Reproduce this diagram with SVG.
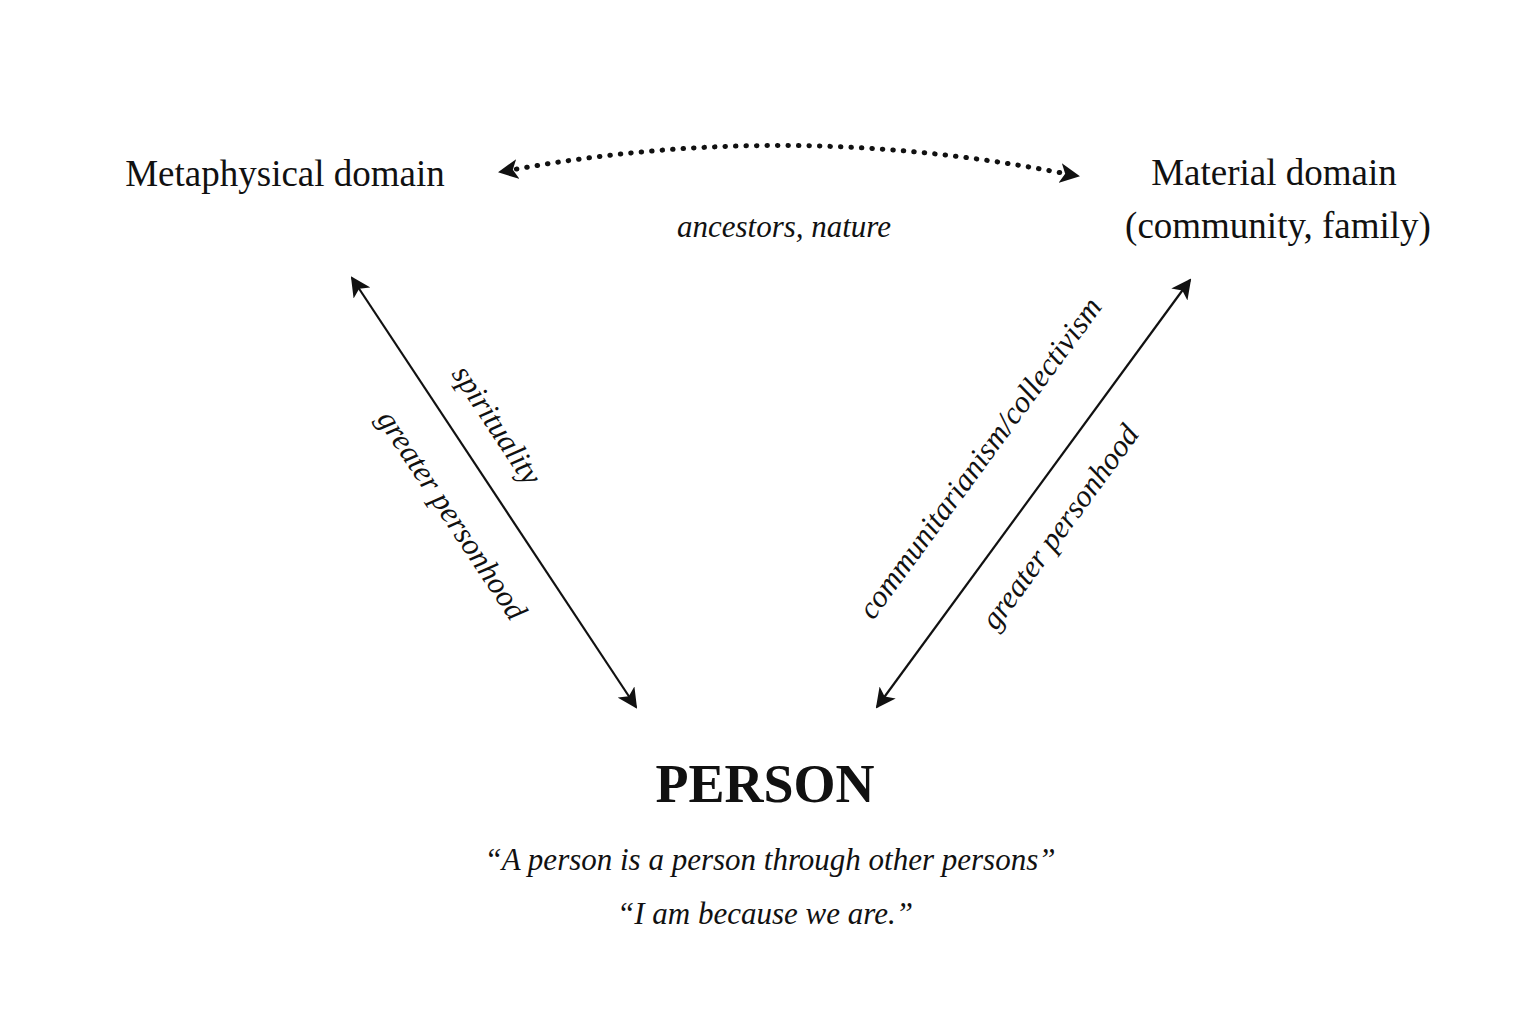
<svg xmlns="http://www.w3.org/2000/svg" width="1536" height="1024" viewBox="0 0 1536 1024">
<style>
text{font-family:"Liberation Serif","Times New Roman",serif;fill:#111}
.h{font-size:37px}
.i{font-size:31px;font-style:italic}
.l{stroke:#111;stroke-width:2.2;fill:none}
</style>
<defs>
<marker id="b" viewBox="0 0 10 10" refX="9" refY="5" markerWidth="20" markerHeight="20" markerUnits="userSpaceOnUse" orient="auto-start-reverse"><path d="M0,0 L10,5 L0,10 L2.5,5 z" fill="#111"/></marker>
</defs>
<rect width="1536" height="1024" fill="#fff"/>
<g id="metaphysical"><text class="h" x="285" y="186" text-anchor="middle">Metaphysical domain</text></g>
<g id="material"><text class="h" x="1274" y="185" text-anchor="middle">Material domain</text><text class="h" x="1278" y="238" text-anchor="middle">(community, family)</text></g>
<g id="person"><text x="765" y="802" text-anchor="middle" font-size="54" font-weight="bold">PERSON</text>
<text class="i" x="770" y="870" text-anchor="middle">“A person is a person through other persons”</text>
<text class="i" x="765" y="924" text-anchor="middle">“I am because we are.”</text></g>
<g id="connectors">
<path d="M506,171 Q789,118 1072,175" fill="none" stroke="#111" stroke-dasharray="0.5 10" stroke-linecap="round" stroke-width="5"/>
<path d="M512,170 L500,172" fill="none" stroke="none" marker-end="url(#b)"/>
<path d="M1066,174 L1078,176" fill="none" stroke="none" marker-end="url(#b)"/>
<line class="l" x1="352" y1="278" x2="636" y2="707" marker-start="url(#b)" marker-end="url(#b)"/>
<line class="l" x1="1190" y1="280" x2="877" y2="707" marker-start="url(#b)" marker-end="url(#b)"/>
<text class="i" x="784" y="237" text-anchor="middle">ancestors, nature</text>
<text class="i" transform="translate(497,425) rotate(56.5)" text-anchor="middle" y="10">spirituality</text>
<text class="i" transform="translate(452,515) rotate(56.5)" text-anchor="middle" y="10">greater personhood</text>
<text class="i" transform="translate(980,458) rotate(-53.8)" text-anchor="middle" y="10">communitarianism/collectivism</text>
<text class="i" transform="translate(1060,527) rotate(-53.8)" text-anchor="middle" y="10">greater personhood</text>
</g>
</svg>
